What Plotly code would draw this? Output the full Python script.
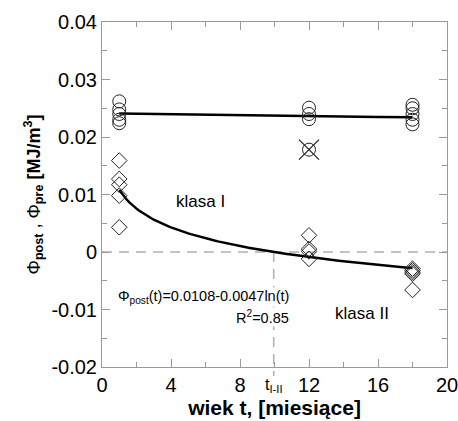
import numpy as np
import plotly.graph_objects as go

# ---- data ----
pre_x = [1, 1, 1, 1, 1, 12, 12, 12, 18, 18, 18, 18, 18]
pre_y = [0.0262, 0.0248, 0.0240, 0.0230, 0.0224,
         0.0251, 0.0240, 0.0231,
         0.0256, 0.0250, 0.0240, 0.0230, 0.0222]
outlier_x = [12]
outlier_y = [0.0178]

post_x = [1, 1, 1, 1, 1, 12, 12, 12, 12, 18, 18, 18, 18, 18]
post_y = [0.0159, 0.0127, 0.0117, 0.0098, 0.0043,
          0.0029, 0.0005, 0.0001, -0.0012,
          -0.0029, -0.0032, -0.0035, -0.0038, -0.0066]

# fitted lines
lin_a, lin_b = 0.02414, -0.0000400      # Phi_pre linear fit
log_a, log_b = 0.0108, -0.0047          # Phi_post(t) = a + b ln(t)
fit_t = np.linspace(1, 18, 120)
t_cross = float(np.exp(-log_a / log_b))

x_ticks = [0, 4, 8, 12, 16, 20]
y_ticks = [-0.02, -0.01, 0, 0.01, 0.02, 0.03, 0.04]
y_tick_text = ["-0.02", "-0.01", "0", "0.01", "0.02", "0.03", "0.04"]

fig = go.Figure()

fig.add_trace(go.Scatter(x=fit_t, y=lin_a + lin_b * fit_t, mode="lines",
                         line=dict(color="black", width=2.5), showlegend=False))
fig.add_trace(go.Scatter(x=fit_t, y=log_a + log_b * np.log(fit_t), mode="lines",
                         line=dict(color="black", width=2.5), showlegend=False))
fig.add_trace(go.Scatter(x=pre_x, y=pre_y, mode="markers",
                         marker=dict(symbol="circle-open", size=13, color="#222",
                                     line=dict(width=1)), showlegend=False))
fig.add_trace(go.Scatter(x=outlier_x, y=outlier_y, mode="markers",
                         marker=dict(symbol="circle-open", size=13, color="#222",
                                     line=dict(width=1)), showlegend=False))
fig.add_trace(go.Scatter(x=outlier_x, y=outlier_y, mode="markers",
                         marker=dict(symbol="x-thin-open", size=20, color="#222",
                                     line=dict(width=1.3, color="#222")), showlegend=False))
fig.add_trace(go.Scatter(x=post_x, y=post_y, mode="markers",
                         marker=dict(symbol="diamond-open", size=12, color="#222",
                                     line=dict(width=1)), showlegend=False))

dash_style = dict(color="#b0b0b0", width=1.5, dash="10px,7px")
fig.add_shape(type="line", xref="x", yref="y", x0=0, x1=20, y0=0, y1=0,
              line=dash_style, layer="below")
fig.add_shape(type="line", xref="x", yref="paper", x0=t_cross, x1=t_cross,
              y0=1/3, y1=-0.026, line=dash_style, layer="below")

txt = dict(family="Liberation Sans, Arial, sans-serif", color="black")
fig.add_annotation(x=5.7, y=0.0088, text="klasa I", showarrow=False,
                   font=dict(size=17, **txt))
fig.add_annotation(x=15.05, y=-0.0107, text="klasa II", showarrow=False,
                   font=dict(size=17, **txt))
fig.add_annotation(x=10.9, y=-0.0078, xanchor="right",
                   text="Φ<sub>post</sub>(t)=0.0108-0.0047ln(t)", showarrow=False,
                   bgcolor="white", borderpad=0, font=dict(size=14.5, **txt))
fig.add_annotation(x=10.9, y=-0.0113, xanchor="right", text="R<sup>2</sup>=0.85",
                   showarrow=False, bgcolor="white", borderpad=0,
                   font=dict(size=14.5, **txt))
fig.add_annotation(x=t_cross, xref="x", y=-0.055, yref="paper",
                   text="t<sub>I-II</sub>", showarrow=False, yanchor="middle",
                   font=dict(size=16, **txt))

axis_common = dict(showline=True, linecolor="#999", linewidth=1, mirror="ticks",
                   ticks="inside", ticklen=8, tickcolor="#999", tickwidth=1,
                   showgrid=False, zeroline=False, automargin=False,
                   ticklabeloverflow="allow")

fig.update_xaxes(range=[0, 20], tickvals=x_ticks,
                 tickfont=dict(size=20, **txt),
                 minor=dict(ticks="inside", dtick=2, ticklen=5, tickcolor="#999"),
                 title=dict(text="<b>wiek t, [miesiące]</b>", standoff=1,
                            font=dict(size=21, **txt)),
                 **axis_common)
fig.update_yaxes(range=[-0.02, 0.04], tickvals=y_ticks, ticktext=y_tick_text,
                 tickfont=dict(size=20, **txt),
                 minor=dict(ticks="inside", dtick=0.005, ticklen=5, tickcolor="#999"),
                 title=dict(text="Φ<sub><b>post</b></sub> , Φ<sub><b>pre</b></sub> <b>[MJ/m<sup>3</sup>]</b>",
                            standoff=6, font=dict(size=18, **txt)),
                 **axis_common)

fig.update_layout(width=458, height=421, plot_bgcolor="white", paper_bgcolor="white",
                  margin=dict(l=102, r=11, t=22, b=54), showlegend=False,
                  font=dict(family="Liberation Sans, Arial, sans-serif", color="black"))

fig.write_html("out.html")
